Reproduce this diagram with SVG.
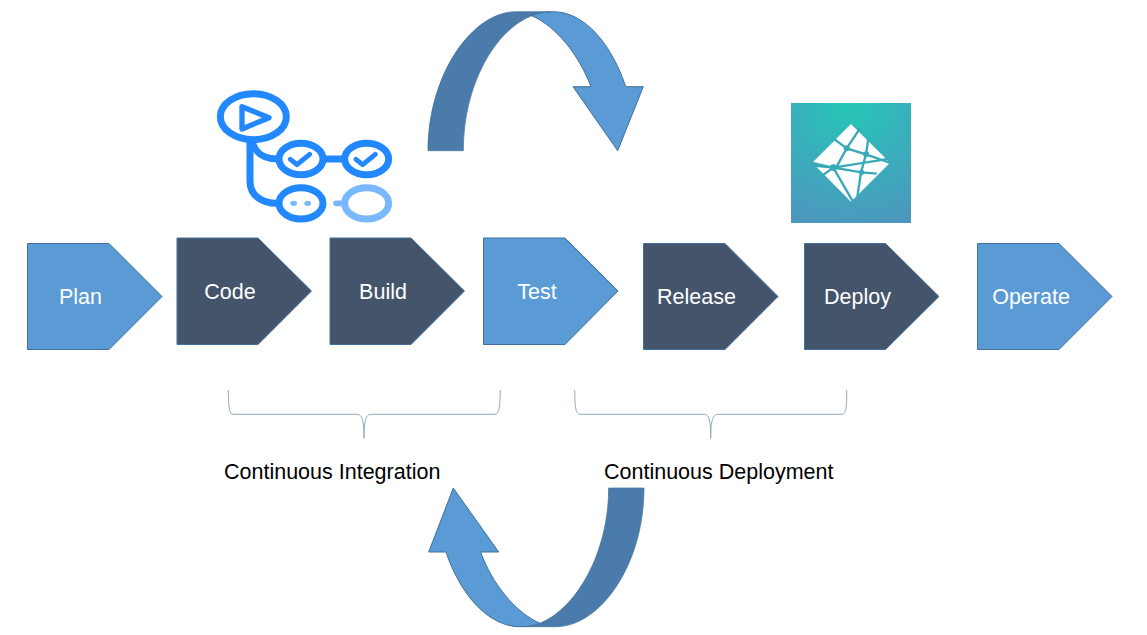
<svg xmlns="http://www.w3.org/2000/svg" width="1147" height="635" viewBox="0 0 1147 635">
<style>
text{font-family:"Liberation Sans",Arial,sans-serif}
.lbl{font-size:21.5px;fill:#fff;text-anchor:middle}
.cap{font-size:21.5px;fill:#000}
.b{fill:#5B9BD5;stroke:#41719C;stroke-width:1}
.d{fill:#44546A;stroke:#41719C;stroke-width:1}
.arc{fill:#4A7BAB;stroke:#41719C;stroke-width:.7}
.brace{fill:none;stroke:#8FA8BE;stroke-width:1}
.g{fill:none;stroke:#2188FF;stroke-width:21}
.l{fill:none;stroke:#79B8FF;stroke-width:21}
.n{fill:none;stroke:#38A9B8;stroke-width:7}
</style>
<rect width="1147" height="635" fill="#fff"/>
<g id="connectors">
<g id="arrow-top">
<path class="arc" d="M428 150.700C428 75 472 11.700 516 11.700L550 11.700L531.700 15.700C495 30 463.300 85 463.300 150.700Z"/>
<path class="b" d="M531.700 15.700C540 12.500 546 11.700 553.300 11.700C585 11.700 612 45 625.700 86.700L643.300 86.700L617.700 150.700L573 86.700L591 86.700C579 55 556 26 531.700 15.700Z"/>
</g>
<g id="arrow-bottom">
<path class="arc" d="M644 488C644 565 600 626.700 556 626.700L525 626.700L540 623.300C577 608 608.700 552 608.700 488Z"/>
<path class="b" d="M540 623.300C533 626 527 626.700 520 626.700C488 626.700 460 594 446 552L428.700 552L453.300 488L498.700 552L480.700 552C492 584 516 613 540 623.300Z"/>
</g>
<path class="brace" d="M228.300 390C228.500 405 229 414.300 233 414.300L357 414.300C362 414.300 364 420 364 438.300C364 420 366 414.300 371 414.300L495 414.300C499.500 414.300 500 405 500.300 390"/>
<path class="brace" d="M574.700 390C574.900 405 575.400 414.300 580 414.300L704 414.300C709 414.300 710.700 420 710.700 438.300C710.700 420 713 414.300 718 414.300L842 414.300C846.500 414.300 846.700 405 846.700 390"/>
</g>
<g id="plan"><path class="b" d="M27.500 243.500H109L162 296.500L109 349.500H27.500Z"/><text class="lbl" x="80.500" y="304">Plan</text></g>
<g id="code"><path class="d" d="M177 238H258L311.500 291L258 344.500H177Z"/><text class="lbl" x="230" y="298.500">Code</text></g>
<g id="build"><path class="d" d="M330 238H411L464.500 291L411 344.500H330Z"/><text class="lbl" x="383" y="298.500">Build</text></g>
<g id="test"><path class="b" d="M483.500 238H565L618 291L565 344.500H483.500Z"/><text class="lbl" x="537" y="298.500">Test</text></g>
<g id="release"><path class="d" d="M643.500 243.500H725L778 296.500L725 349.500H643.500Z"/><text class="lbl" x="696.500" y="304">Release</text></g>
<g id="deploy"><path class="d" d="M804.500 243.500H885.500L939 296.500L885.500 349.500H804.500Z"/><text class="lbl" x="857.500" y="304">Deploy</text></g>
<g id="operate"><path class="b" d="M977.500 243.500H1059L1112 296.500L1059 349.500H977.500Z"/><text class="lbl" x="1031" y="304">Operate</text></g>
<g id="ci-label"><text class="cap" x="224" y="478.500">Continuous Integration</text></g>
<g id="cd-label"><text class="cap" x="604" y="478.500">Continuous Deployment</text></g>
<g id="actions-icon" transform="translate(200 80) scale(.33333)">
<ellipse class="g" cx="160" cy="110" rx="99" ry="69"/>
<path class="g" style="stroke-width:16;stroke-linejoin:round" d="M126 80L207 113L126 147Z"/>
<path class="g" d="M150 180V305C150 345 185 370 230 370"/>
<path class="g" d="M158 190C170 225 195 237 235 237"/>
<path class="g" d="M372 237H432"/>
<ellipse class="g" cx="303" cy="237" rx="66" ry="47"/>
<ellipse class="g" cx="500" cy="237" rx="66" ry="47"/>
<ellipse class="g" cx="303" cy="370" rx="66" ry="47"/>
<ellipse class="l" cx="500" cy="370" rx="66" ry="47"/>
<path class="g" style="stroke-width:15;stroke-linecap:round;stroke-linejoin:round" d="M271 238L291 254L329 223"/>
<path class="g" style="stroke-width:15;stroke-linecap:round;stroke-linejoin:round" d="M468 238L488 254L526 223"/>
<ellipse cx="281" cy="370" rx="10" ry="8" fill="#79B8FF"/>
<ellipse cx="323" cy="370" rx="10" ry="8" fill="#79B8FF"/>
<path d="M408 370H434" stroke="#79B8FF" stroke-width="17" stroke-linecap="round"/>
</g>
<defs><radialGradient id="nf" cx=".5" cy="0" r="1.05"><stop offset="0" stop-color="#25C7B7"/><stop offset="1" stop-color="#4C97BE"/></radialGradient></defs>
<g id="netlify-icon">
<rect x="791" y="103" width="120" height="120" fill="url(#nf)"/>
<g transform="translate(780 95) scale(.33333)">
<path d="M213 87L330 203L213 320L97 203Z" fill="#fff"/>
<path class="n" d="M160 130L200 160L258 178L335 205M240 100L200 160L170 215M265 130L258 178L243 232L232 305M92 203L160 218L335 190M160 218L245 232L290 236M125 243L160 218L222 325M100 212L160 218"/>
<circle cx="200" cy="160" r="9" fill="#38A9B8"/><circle cx="258" cy="178" r="9" fill="#38A9B8"/><circle cx="160" cy="218" r="10" fill="#38A9B8"/><circle cx="245" cy="232" r="8" fill="#38A9B8"/>
</g>
</g>
</svg>
